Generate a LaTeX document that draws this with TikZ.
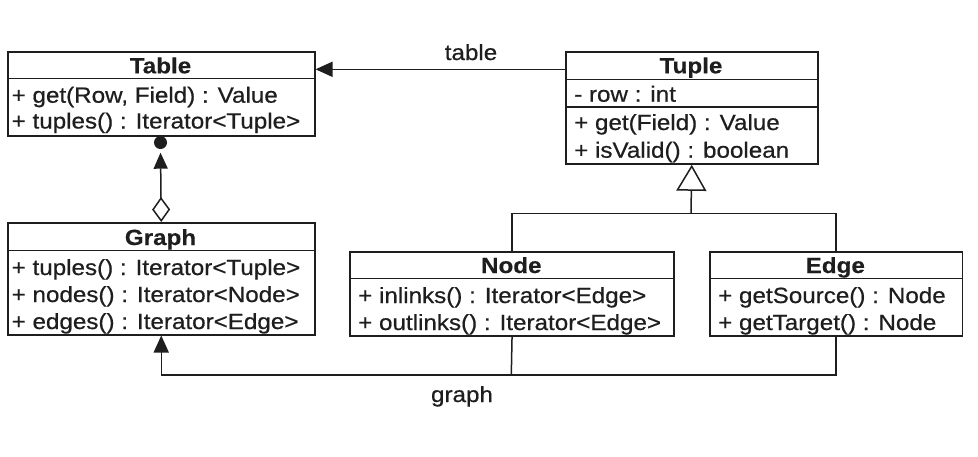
\documentclass[tikz,border=0pt]{standalone}
\usepackage{fontspec}
\setmainfont{Liberation Sans}[FakeStretch=1.1, FakeBold=0.6, BoldFeatures={FakeBold=0.3}]
\usetikzlibrary{arrows.meta}
\definecolor{ink}{HTML}{1E1E1E}
\begin{document}
\begin{tikzpicture}[x=1pt,y=-1pt,
  ln/.style={line width=1.5pt, draw=ink},
  classbox/.style={draw=ink, line width=1.5pt, inner sep=0pt, anchor=north west},
  ttl/.style={anchor=base, inner sep=0pt, text=ink, font=\fontsize{22}{26}\selectfont\bfseries},
  mem/.style={anchor=base west, inner sep=0pt, text=ink, font=\fontsize{22}{26}\selectfont},
  lbl/.style={anchor=base, inner sep=0pt, text=ink, font=\fontsize{22}{26}\selectfont},
  filledtip/.style={-{Triangle[length=17pt,width=15pt]}}
]
\fill[white] (0,0) rectangle (978,456);
\useasboundingbox (0,0) rectangle (978,456);

% Table
\node[classbox, minimum width=307pt, minimum height=84pt] (table) at (7,51) {};
\draw[ln] (7,78.3) -- (314,78.3);
\node[ttl] (tableT) at (160.5,73.3) {Table};
\node[mem] (tableA) at (11.5,102.7) {+ get(Row, Field) : Value};
\node[mem] (tableB) at (11.5,128.5) {+ tuples() : Iterator<Tuple>};

% Graph
\node[classbox, minimum width=307pt, minimum height=112pt] (graph) at (7,222) {};
\draw[ln] (7,250.5) -- (314,250.5);
\node[ttl] (graphT) at (160.5,245) {Graph};
\node[mem] (graphA) at (11.5,275) {+ tuples() : Iterator<Tuple>};
\node[mem] (graphB) at (11.5,302) {+ nodes() : Iterator<Node>};
\node[mem] (graphC) at (11.5,329) {+ edges() : Iterator<Edge>};

% Tuple
\node[classbox, minimum width=252pt, minimum height=112.3pt] (tuple) at (565,51) {};
\draw[ln] (565,79.3) -- (817,79.3);
\draw[ln] (565,107) -- (817,107);
\node[ttl] (tupleT) at (691,73.3) {Tuple};
\node[mem] (tupleA) at (574,101.7) {- row : int};
\node[mem] (tupleB) at (574,130) {+ get(Field) : Value};
\node[mem] (tupleC) at (574,157.7) {+ isValid() : boolean};

% Node
\node[classbox, minimum width=324pt, minimum height=84pt] (node) at (349.3,251) {};
\draw[ln] (349.3,278.3) -- (673.3,278.3);
\node[ttl] (nodeT) at (511.3,273) {Node};
\node[mem] (nodeA) at (358,303) {+ inlinks() : Iterator<Edge>};
\node[mem] (nodeB) at (358,330) {+ outlinks() : Iterator<Edge>};

% Edge
\node[classbox, minimum width=252.7pt, minimum height=84pt] (edge) at (709,251) {};
\draw[ln] (709,278.6) -- (961.7,278.6);
\node[ttl] (edgeT) at (835.3,273) {Edge};
\node[mem] (edgeA) at (718,303) {+ getSource() : Node};
\node[mem] (edgeB) at (718,330) {+ getTarget() : Node};

% Table <- Tuple
\draw[ln, filledtip] (tuple.west |- 0,69.3) -- (table.east |- 0,69.3);
\node[lbl] (tablelbl) at (471,60) {table};

% Graph aggregation to Table
\node[circle, fill=ink, draw=none, inner sep=0pt, minimum size=13pt] (dot) at (160.5,142.5) {};
\draw[ln, {Diamond[open,length=25pt,width=18pt]}-{Triangle[length=16pt,width=14pt]}, shorten >=3.5pt]
  (graph.north) -- (dot.south);

% Generalization
\coordinate (genj) at (691,213.7);
\draw[ln, -{Triangle[open,length=26pt,width=30pt]}] (genj) -- (tuple.south);
\draw[ln] (node.north) |- (genj) -| (edge.north);

% graph association
\coordinate (bj) at (511.3,375);
\draw[ln] (node.south) -- (bj);
\draw[ln, filledtip] (edge.south) |- (bj) -| (graph.south);
\node[lbl] (graphlbl) at (462,402) {graph};
\end{tikzpicture}
\end{document}
